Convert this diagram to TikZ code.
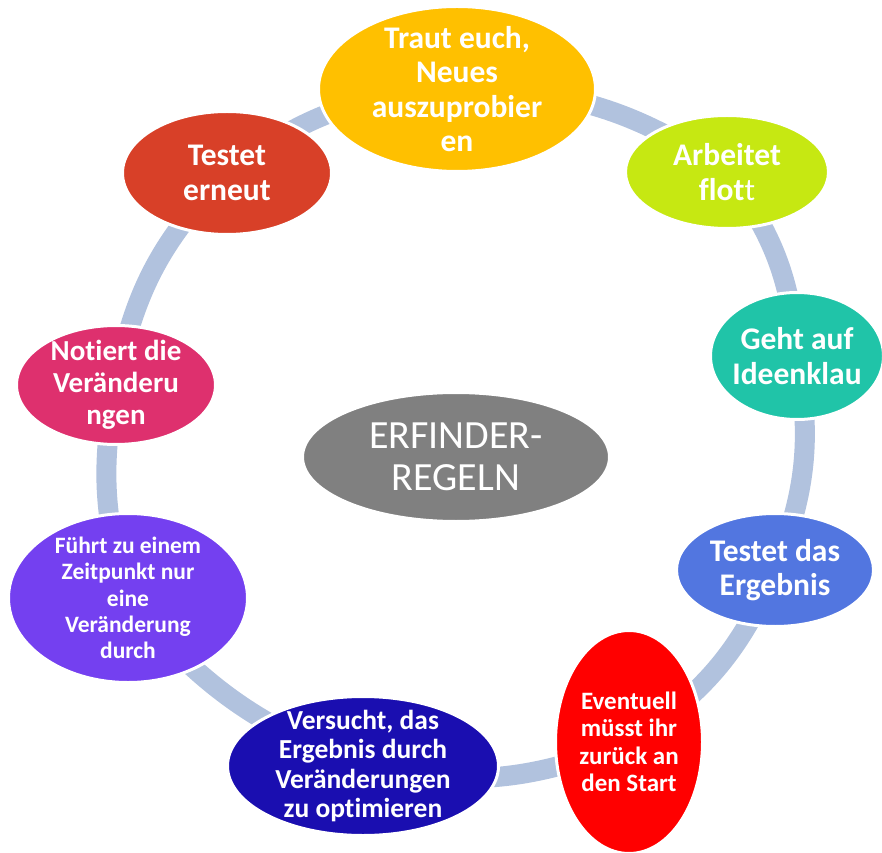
\documentclass[tikz,border=0pt]{standalone}
\usepackage{fontspec}
\setmainfont{Carlito}[Ligatures=NoCommon]
\usetikzlibrary{shapes.geometric,backgrounds}
\definecolor{ringc}{RGB}{177,194,222}
\definecolor{cYellow}{RGB}{255,192,0}
\definecolor{cGreen}{RGB}{198,232,18}
\definecolor{cTeal}{RGB}{32,196,168}
\definecolor{cBlue}{RGB}{82,118,224}
\definecolor{cRed}{RGB}{255,0,0}
\definecolor{cNavy}{RGB}{26,14,176}
\definecolor{cPurple}{RGB}{116,64,240}
\definecolor{cPink}{RGB}{222,48,110}
\definecolor{cOrange}{RGB}{216,64,40}
\definecolor{cGray}{RGB}{128,128,128}
\begin{document}
\begin{tikzpicture}[x=1pt,y=1pt,
  blob/.style={ellipse, draw=white, line width=3pt, inner sep=0pt},
  lbl/.style={text=white, font=\bfseries, align=center, inner sep=0pt},
  link/.style={draw=ringc, line width=20pt}]
\useasboundingbox (0,0) rectangle (882,852);
% ellipses
\node[blob, fill=cYellow, minimum width=277, minimum height=165] (n1) at (457,763) {};
\node[blob, fill=cGreen,  minimum width=203, minimum height=113] (n2) at (727,680) {};
\node[blob, fill=cTeal,   minimum width=173, minimum height=127] (n3) at (797,496) {};
\node[blob, fill=cBlue,   minimum width=197, minimum height=113] (n4) at (775,282) {};
\node[blob, fill=cRed,    minimum width=147, minimum height=223] (n5) at (629,110) {};
\node[blob, fill=cNavy,   minimum width=271, minimum height=139] (n6) at (363,86) {};
\node[blob, fill=cPurple, minimum width=239, minimum height=169] (n7) at (128,254) {};
\node[blob, fill=cPink,   minimum width=199, minimum height=119] (n8) at (116,467) {};
\node[blob, fill=cOrange, minimum width=209, minimum height=123] (n9) at (227,679) {};
\node[blob, fill=cGray,   minimum width=307, minimum height=129] (c) at (456,395) {};
% ring
\begin{pgfonlayer}{background}
\draw[link] (n1.center) to[bend left=17] (n2.center);
\draw[link] (n2.center) to[bend left=16] (n3.center);
\draw[link] (n3.center) to[bend left=16] (n4.center);
\draw[link] (n4.center) to[bend left=17] (n5.center);
\draw[link] (n5.center) to[bend left=17] (n6.center);
\draw[link] (n6.center) to[bend left=15] (n7.center);
\draw[link] (n7.center) to[bend left=14] (n8.center);
\draw[link] (n8.center) to[bend left=17] (n9.center);
\draw[link] (n9.center) to[bend left=17] (n1.center);
\end{pgfonlayer}
% labels
\node[lbl, font=\bfseries\fontsize{31.5}{34.5}\selectfont] (t1) at (n1) {Traut euch,\\Neues\\auszuprobier\\en};
\node[lbl, font=\bfseries\fontsize{31.5}{34.5}\selectfont] (t2) at (n2) {Arbeitet\\flot{\mdseries t}};
\node[lbl, font=\bfseries\fontsize{31.5}{34.5}\selectfont] (t3) at (n3) {Geht auf\\Ideenklau};
\node[lbl, font=\bfseries\fontsize{31.5}{34.5}\selectfont] (t4) at (n4) {Testet das\\Ergebnis};
\node[lbl, font=\bfseries\fontsize{25}{27.5}\selectfont] (t5) at (n5) {Eventuell\\müsst ihr\\zurück an\\den Start};
\node[lbl, font=\bfseries\fontsize{27.5}{29.5}\selectfont] (t6) at (n6) {Versucht, das\\Ergebnis durch\\Veränderungen\\zu optimieren};
\node[lbl, font=\bfseries\fontsize{23.5}{26.3}\selectfont] (t7) at (n7) {Führt zu einem\\Zeitpunkt nur\\eine\\Veränderung\\durch};
\node[lbl, font=\bfseries\fontsize{29}{32}\selectfont] (t8) at (n8) {Notiert die\\Veränderu\\ngen};
\node[lbl, font=\bfseries\fontsize{31.5}{34.5}\selectfont] (t9) at (n9) {Testet\\erneut};
\node[lbl, font=\fontsize{40}{42}\selectfont] (tc) at (c) {ERFINDER-\\REGELN};
\end{tikzpicture}
\end{document}
